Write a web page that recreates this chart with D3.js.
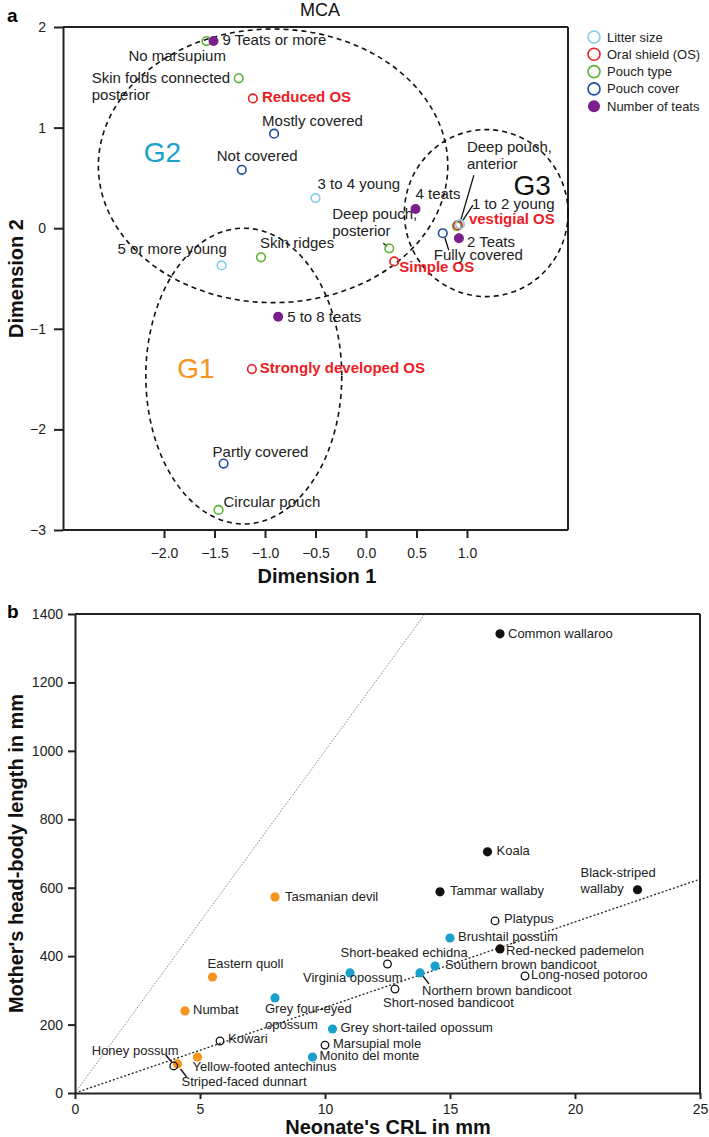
<html>
<head>
<meta charset="utf-8">
<title>MCA and neonate size</title>
<style>
    body { margin: 0; padding: 0; background: #fff; font-family: "Liberation Sans", Arial, sans-serif; }
    .lab { font-size: 15px; fill: #222; }
    .os { font-weight: bold; fill: #ed1c24; }
    .blab { font-size: 13px; fill: #222; }
    .axis text { font-size: 14px; fill: #222; font-family: "Liberation Sans", Arial, sans-serif; }
    .axis path, .axis line { stroke: #222; stroke-width: 2; }
    .title { font-size: 20px; font-weight: bold; fill: #111; }
</style>
</head>
<body>
<div id="chart"></div>
<script src="https://d3js.org/d3.v7.min.js"></script>
<script>
// ---- panel a : MCA category coordinates ----
var mcaLabels = ["No marsupium", "9 Teats or more", "Skin folds connected\nposterior", "Reduced OS",
    "Mostly covered", "Not covered", "3 to 4 young", "5 or more young", "Skin ridges", "5 to 8 teats",
    "Strongly developed OS", "Partly covered", "Circular pouch", "4 teats", "Deep pouch,\nposterior",
    "Simple OS", "Fully covered", "2 Teats", "Deep pouch,\nanterior", "vestigial OS", "1 to 2 young"];
var mcaVariable = ["Pouch type", "Number of teats", "Pouch type", "Oral shield (OS)",
    "Pouch cover", "Pouch cover", "Litter size", "Litter size", "Pouch type", "Number of teats",
    "Oral shield (OS)", "Pouch cover", "Pouch type", "Number of teats", "Pouch type",
    "Oral shield (OS)", "Pouch cover", "Number of teats", "Pouch type", "Oral shield (OS)", "Litter size"];
var mcaDim1 = [-1.58, -1.51, -1.26, -1.12, -0.91, -1.23, -0.50, -1.43, -1.04, -0.87,
    -1.13, -1.41, -1.46, 0.49, 0.23, 0.28, 0.76, 0.92, 0.90, 0.91, 0.93];
var mcaDim2 = [1.86, 1.86, 1.49, 1.29, 0.94, 0.58, 0.30, -0.37, -0.29, -0.88,
    -1.40, -2.34, -2.80, 0.19, -0.20, -0.33, -0.05, -0.10, 0.02, 0.03, 0.04];

var variables = ["Litter size", "Oral shield (OS)", "Pouch type", "Pouch cover", "Number of teats"];
var variableColors = ["#7fcde9", "#ec2027", "#5db332", "#1f4e9e", "#7a1f8c"];

// cluster ellipses (centre and radii in dimension units)
var groupNames = ["G1", "G2", "G3"];
var groupCx = [-1.21, -0.92, 1.19];
var groupCy = [-1.47, 0.62, 0.15];
var groupRx = [0.97, 1.73, 0.81];
var groupRy = [1.47, 1.36, 0.83];
var groupLabelX = [-1.87, -2.20, 1.46];
var groupLabelY = [-1.49, 0.66, 0.33];
var groupColors = ["#f7941d", "#1aa0cc", "#111"];

var xTicksA = [-2.0, -1.5, -1.0, -0.5, 0.0, 0.5, 1.0];
var yTicksA = [-3, -2, -1, 0, 1, 2];

// ---- panel b : neonate CRL vs mother's size ----
var species = ["Common wallaroo", "Koala", "Black-striped\nwallaby", "Tammar wallaby", "Platypus",
    "Brushtail possum", "Red-necked pademelon", "Short-beaked echidna", "Southern brown bandicoot",
    "Northern brown bandicoot", "Long-nosed potoroo", "Short-nosed bandicoot", "Virginia opossum",
    "Grey four-eyed\nopossum", "Grey short-tailed opossum", "Marsupial mole", "Monito del monte",
    "Kowari", "Eastern quoll", "Numbat", "Yellow-footed antechinus", "Striped-faced dunnart",
    "Honey possum", "Tasmanian devil"];
var neonateCRL = [17.0, 16.5, 22.5, 14.6, 16.8, 15.0, 17.0, 12.5, 14.4, 13.8, 18.0, 12.8, 11.0,
    8.0, 10.3, 10.0, 9.5, 5.8, 5.5, 4.4, 4.9, 4.1, 3.95, 8.0];
var motherHBL = [1342, 705, 594, 588, 503, 453, 421, 377, 371, 351, 342, 304, 351,
    278, 187, 140, 105, 152, 339, 240, 105, 85, 79, 573];
var speciesGroup = ["G3", "G3", "G3", "G3", "none", "G2", "G3", "none", "G2", "G2", "none", "none", "G2",
    "G2", "G2", "none", "G2", "none", "G1", "G1", "G1", "G1", "none", "G1"];

var refSlopes = [100, 25];
var xTicksB = [0, 5, 10, 15, 20, 25];
var yTicksB = [0, 200, 400, 600, 800, 1000, 1200, 1400];

// label placement (pixels relative to the point), kept apart from the data
var mcaLabelPos = [[-78, 20], [9, 4], [-147, 5], [9, 4], [-12, -8], [-25, -9], [2, -9], [-104, -11],
    [-1, -9], [9, 5], [8, 4], [-11, -7], [5, -3], [0, -10], [-57, -29], [5, 11], [-9, 27], [8, 9],
    [10, -74], [11, -1], [12, -15]];
var mcaLeaders = {"Deep pouch,\nposterior": [-6, -5, -2, -2], "Fully covered": [2, 4, 6, 17],
    "Deep pouch,\nanterior": [17, -51, 3, -3], "1 to 2 young": [13, -19, 3, -4]};
var spLabelPos = [[8, 4], [9, 3], [-57, -13], [10, 3], [9, 2], [8, 3], [6, 6], [-47, -7], [10, 3],
    [2, 22], [6, 3], [-12, 18], [-47, 9], [-10, 15], [8, 3], [8, 3], [7, 3], [8, 2], [-5, -9],
    [8, 3], [-5, 14], [4, 22], [-82, -11], [10, 4]];
var spLeaders = {"Northern brown bandicoot": [2, 2, 9, 11], "Striped-faced dunnart": [3, 5, 9, 13],
    "Honey possum": [-8, -11, -2, -4]};

var W = 709, H = 1137;
var svg = d3.select("#chart").append("svg").attr("width", W).attr("height", H);

function multiline(sel, str, lh) {
    str.split("\n").forEach(function (s, i) {
        sel.append("tspan").attr("x", sel.attr("x")).attr("dy", i == 0 ? 0 : lh).text(s);
    });
}

// ================= panel a =================
var a = {left: 63, right: 568, top: 27, bottom: 530};
var xA = d3.scaleLinear().domain([-3, 2]).range([a.left, a.right]);
var yA = d3.scaleLinear().domain([-3, 2]).range([a.bottom, a.top]);

svg.append("text").attr("x", 7).attr("y", 22).style("font-size", "19px").style("font-weight", "bold").text("a");
svg.append("text").attr("x", 320).attr("y", 16).attr("text-anchor", "middle").style("font-size", "18px").attr("fill", "#111").text("MCA");

// frame
svg.append("line").attr("x1", a.left).attr("x2", a.right).attr("y1", a.top).attr("y2", a.top).attr("stroke", "#222").attr("stroke-width", 2);
svg.append("line").attr("x1", a.right).attr("x2", a.right).attr("y1", a.top).attr("y2", a.bottom).attr("stroke", "#222").attr("stroke-width", 2);

svg.append("g").attr("class", "axis").attr("transform", "translate(0," + a.bottom + ")")
    .call(d3.axisBottom(xA).tickValues(xTicksA).tickFormat(d3.format(".1f")).tickSize(8).tickPadding(10).tickSizeOuter(0))
    .call(function (g) { g.select(".domain").attr("d", "M" + a.left + ",0H" + a.right); });
svg.append("g").attr("class", "axis").attr("transform", "translate(" + a.left + ",0)")
    .call(d3.axisLeft(yA).tickValues(yTicksA).tickFormat(d3.format("d")).tickSize(9).tickPadding(8).tickSizeOuter(0));

svg.append("text").attr("class", "title").attr("x", 317).attr("y", 583).attr("text-anchor", "middle").text("Dimension 1");
svg.append("text").attr("class", "title").attr("transform", "translate(23," + ((a.top + a.bottom) / 2) + ") rotate(-90)")
    .attr("text-anchor", "middle").text("Dimension 2");

// ellipses
groupNames.forEach(function (g, i) {
    svg.append("ellipse")
        .attr("cx", xA(groupCx[i])).attr("cy", yA(groupCy[i]))
        .attr("rx", xA(groupCx[i] + groupRx[i]) - xA(groupCx[i]))
        .attr("ry", yA(groupCy[i]) - yA(groupCy[i] + groupRy[i]))
        .attr("fill", "none").attr("stroke", "#111").attr("stroke-width", 1.6).attr("stroke-dasharray", "5,4");
    svg.append("text").attr("x", xA(groupLabelX[i])).attr("y", yA(groupLabelY[i]))
        .style("font-size", "28px").attr("fill", groupColors[i]).text(g);
});

var colA = d3.scaleOrdinal().domain(variables).range(variableColors);

mcaLabels.forEach(function (lab, i) {
    var px = xA(mcaDim1[i]), py = yA(mcaDim2[i]);
    var filled = mcaVariable[i] == "Number of teats";
    if (mcaLeaders[lab]) {
        var l = mcaLeaders[lab];
        svg.append("line").attr("x1", px + l[0]).attr("y1", py + l[1]).attr("x2", px + l[2]).attr("y2", py + l[3])
            .attr("stroke", "#111").attr("stroke-width", 1.3);
    }
    svg.append("circle").attr("cx", px).attr("cy", py).attr("r", filled ? 5 : 4.3)
        .attr("fill", filled ? colA(mcaVariable[i]) : "none")
        .attr("stroke", colA(mcaVariable[i])).attr("stroke-width", filled ? 0 : 1.6);
    var t = svg.append("text").attr("class", mcaVariable[i] == "Oral shield (OS)" ? "lab os" : "lab")
        .attr("x", px + mcaLabelPos[i][0]).attr("y", py + mcaLabelPos[i][1]);
    multiline(t, lab, 17);
});

// legend
var leg = svg.append("g").attr("transform", "translate(594,37)");
variables.forEach(function (v, i) {
    var filled = v == "Number of teats";
    leg.append("circle").attr("cx", 0).attr("cy", i * 17.3).attr("r", 6)
        .attr("fill", filled ? colA(v) : "none").attr("stroke", colA(v)).attr("stroke-width", filled ? 0 : 1.6);
    leg.append("text").attr("x", 13).attr("y", i * 17.3 + 4.5).style("font-size", "13px").attr("fill", "#222").text(v);
});

// ================= panel b =================
var b = {left: 75, right: 700, top: 614, bottom: 1093};
var xB = d3.scaleLinear().domain([0, 25]).range([b.left, b.right]);
var yB = d3.scaleLinear().domain([0, 1400]).range([b.bottom, b.top]);

svg.append("text").attr("x", 7).attr("y", 618).style("font-size", "19px").style("font-weight", "bold").text("b");

svg.append("line").attr("x1", b.left).attr("x2", b.right).attr("y1", b.top).attr("y2", b.top).attr("stroke", "#222").attr("stroke-width", 2);
svg.append("line").attr("x1", b.right).attr("x2", b.right).attr("y1", b.top).attr("y2", b.bottom).attr("stroke", "#222").attr("stroke-width", 2);

svg.append("g").attr("class", "axis").attr("transform", "translate(0," + b.bottom + ")")
    .call(d3.axisBottom(xB).tickValues(xTicksB).tickFormat(d3.format("d")).tickSize(6).tickPadding(5).tickSizeOuter(0));
svg.append("g").attr("class", "axis").attr("transform", "translate(" + b.left + ",0)")
    .call(d3.axisLeft(yB).tickValues(yTicksB).tickFormat(d3.format("d")).tickSize(7).tickPadding(5).tickSizeOuter(0));

svg.append("text").attr("class", "title").attr("x", 388).attr("y", 1134).attr("text-anchor", "middle").text("Neonate's CRL in mm");
svg.append("text").attr("class", "title").attr("transform", "translate(23," + ((b.top + b.bottom) / 2) + ") rotate(-90)")
    .attr("text-anchor", "middle").text("Mother's head-body length in mm");

// reference lines y = k * x
refSlopes.forEach(function (k, i) {
    var xEnd = Math.min(25, 1400 / k);
    svg.append("line").attr("x1", xB(0)).attr("y1", yB(0)).attr("x2", xB(xEnd)).attr("y2", yB(k * xEnd))
        .attr("stroke", i == 0 ? "#888" : "#222").attr("stroke-width", i == 0 ? 1 : 1.3)
        .attr("stroke-dasharray", i == 0 ? "1.5,1.5" : "2,2");
});

var colB = d3.scaleOrdinal().domain(["G1", "G2", "G3"]).range(["#f7941d", "#1aa0cc", "#111"]);

species.forEach(function (sp, i) {
    var px = xB(neonateCRL[i]), py = yB(motherHBL[i]);
    if (spLeaders[sp]) {
        var l = spLeaders[sp];
        svg.append("line").attr("x1", px + l[0]).attr("y1", py + l[1]).attr("x2", px + l[2]).attr("y2", py + l[3])
            .attr("stroke", "#111").attr("stroke-width", 1.5);
    }
    var open = speciesGroup[i] == "none";
    svg.append("circle").attr("cx", px).attr("cy", py).attr("r", open ? 3.8 : 4.6)
        .attr("fill", open ? "none" : colB(speciesGroup[i]))
        .attr("stroke", open ? "#111" : "none").attr("stroke-width", 1.3);
    var t = svg.append("text").attr("class", "blab")
        .attr("x", px + spLabelPos[i][0]).attr("y", py + spLabelPos[i][1]);
    multiline(t, sp, 16);
});
</script>
</body>
</html>
